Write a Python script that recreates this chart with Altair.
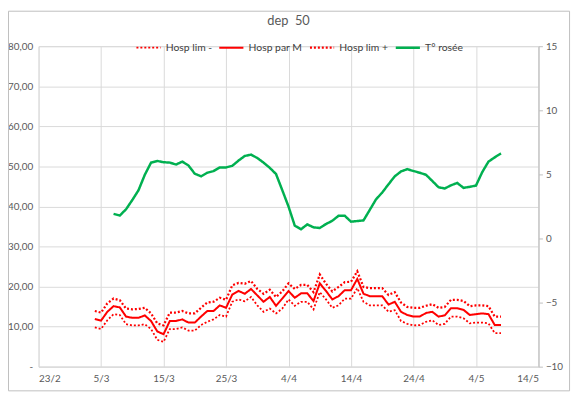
import altair as alt
import pandas as pd

# ---------------- data ----------------
series_names = ["Hosp lim -", "Hosp par M", "Hosp lim +", "T° rosée"]
x_tick_dates = ["2021-02-23", "2021-03-05", "2021-03-15", "2021-03-25", "2021-04-04",
                "2021-04-14", "2021-04-24", "2021-05-04", "2021-05-14"]
left_ticks = [0, 10, 20, 30, 40, 50, 60, 70, 80]
right_ticks = [-10, -5, 0, 5, 10, 15]

hosp_start = "2021-03-04"
hosp_m = [11.9, 11.5, 13.7, 15.1, 14.8, 12.5, 12.2, 12.2, 12.8, 11.4, 8.8, 8.1, 11.4, 11.4, 11.8, 11.0, 11.0,
          12.5, 13.9, 13.9, 15.3, 14.7, 18.0, 18.9, 18.2, 19.4, 17.8, 16.2, 17.4, 15.2, 17.0, 18.9, 17.2,
          18.3, 18.3, 16.4, 20.8, 18.9, 16.8, 17.6, 19.1, 19.1, 21.9, 18.2, 17.6, 17.6, 17.6, 15.5, 16.2,
          13.7, 12.9, 12.5, 12.5, 13.4, 13.7, 12.5, 12.8, 14.6, 14.6, 14.2, 12.9, 13.1, 13.3, 13.1, 10.4, 10.4]
hosp_hi = [13.9, 13.5, 15.8, 17.0, 16.6, 14.5, 14.3, 14.4, 14.7, 13.3, 10.8, 10.3, 13.5, 13.5, 13.9, 13.3, 13.3,
           14.7, 16.0, 16.2, 17.2, 16.7, 20.3, 20.9, 20.7, 21.4, 19.4, 18.2, 19.2, 17.4, 18.8, 20.8, 19.4,
           20.4, 20.4, 18.6, 23.0, 20.7, 18.8, 19.9, 21.1, 21.2, 23.8, 19.9, 19.6, 19.6, 19.6, 17.9, 18.6,
           16.0, 14.9, 14.7, 14.7, 15.2, 15.6, 14.7, 14.9, 16.7, 16.7, 16.4, 15.1, 15.3, 15.3, 15.1, 12.5, 12.5]
hosp_lo = [9.8, 9.4, 11.6, 13.1, 12.9, 10.6, 10.3, 10.3, 10.6, 9.4, 6.7, 6.2, 9.4, 9.4, 9.8, 9.0, 9.0,
           10.4, 11.2, 11.8, 12.9, 12.5, 16.2, 16.8, 16.3, 17.4, 15.3, 13.7, 14.5, 13.3, 14.5, 16.8, 15.2,
           16.2, 16.2, 14.3, 18.6, 16.8, 14.7, 15.3, 17.0, 17.0, 19.6, 16.2, 15.3, 15.3, 15.3, 13.7, 14.1,
           11.4, 10.7, 10.3, 10.4, 11.2, 11.6, 10.4, 10.7, 12.5, 12.5, 12.1, 10.8, 11.0, 11.0, 10.8, 8.4, 8.4]

rosee_start = "2021-03-07"
rosee = [1.92, 1.79, 2.28, 3.0, 3.77, 4.97, 5.92, 6.05, 5.95, 5.92, 5.77, 6.0, 5.69, 5.05, 4.85, 5.13,
         5.26, 5.54, 5.54, 5.67, 6.08, 6.44, 6.54, 6.28, 5.92, 5.51, 5.03, 3.77, 2.49, 1.0, 0.72, 1.1,
         0.87, 0.82, 1.13, 1.38, 1.77, 1.77, 1.31, 1.36, 1.41, 2.23, 3.05, 3.59, 4.23, 4.85, 5.23, 5.41,
         5.26, 5.13, 4.97, 4.49, 4.0, 3.9, 4.15, 4.33, 3.95, 4.03, 4.13, 5.18, 6.0, 6.33, 6.64]


def days(start, n):
    return [d.strftime("%Y-%m-%dT00:00:00") for d in pd.date_range(start, periods=n, freq="D")]


def dt(s):
    y, m, d = map(int, s.split("-"))
    return alt.DateTime(year=y, month=m, date=d)


hosp_dates = days(hosp_start, len(hosp_m))
rows = []
for name, vals in [("Hosp lim -", hosp_lo), ("Hosp par M", hosp_m), ("Hosp lim +", hosp_hi)]:
    for d, v in zip(hosp_dates, vals):
        rows.append({"date": d, "val": v, "serie": name})
df_hosp = pd.DataFrame(rows)
df_rosee = pd.DataFrame({"date": days(rosee_start, len(rosee)), "val": rosee,
                         "serie": ["T° rosée"] * len(rosee)})

# ---------------- styles ----------------
TXT = "#595959"
GRID = "#D9D9D9"
FONT = "Lato"

legend = alt.Legend(orient="none", legendX=98, legendY=-12, direction="horizontal", title=None,
                    symbolType="stroke", symbolSize=600, symbolStrokeWidth=2, gridAlign="none",
                    labelFontSize=10.5, labelColor="#404040", labelFont=FONT, columnPadding=2, labelOffset=4)

color = alt.Color("serie:N", scale=alt.Scale(domain=series_names,
                                             range=["#FF0000", "#FF0000", "#FF0000", "#00B050"]),
                  legend=legend)
dash = alt.StrokeDash("serie:N", scale=alt.Scale(domain=series_names,
                                                 range=[[2, 2], [1, 0], [2, 2], [1, 0]]),
                      legend=legend)
width_enc = alt.StrokeWidth("serie:N", scale=alt.Scale(domain=series_names, range=[1.8, 2.5, 1.8, 2]),
                            legend=None)

x_enc = alt.X("date:T",
              scale=alt.Scale(domain=[dt(x_tick_dates[0]), dt(x_tick_dates[-1])], nice=False),
              axis=alt.Axis(values=[dt(s) for s in x_tick_dates], format="%-d/%-m", title=None,
                            grid=True, gridColor=GRID, domainColor=GRID, ticks=False,
                            labelPadding=7, labelColor=TXT, labelFontSize=10, labelFont=FONT))

red = alt.Chart(df_hosp).mark_line().encode(
    x=x_enc,
    y=alt.Y("val:Q", scale=alt.Scale(domain=[0, 80], nice=False),
            axis=alt.Axis(orient="left", values=left_ticks, title=None, grid=True, gridColor=GRID,
                          domain=False, ticks=False, labelPadding=6, labelColor=TXT,
                          labelFontSize=10, labelFont=FONT,
                          labelExpr="datum.value == 0 ? '-' : replace(format(datum.value, '.2f'), '.', ',')")),
    color=color, strokeDash=dash, strokeWidth=width_enc, detail="serie:N",
)

green = alt.Chart(df_rosee).mark_line().encode(
    x=x_enc,
    y=alt.Y("val:Q", scale=alt.Scale(domain=[-10, 15], nice=False),
            axis=alt.Axis(orient="right", values=right_ticks, title=None, grid=False,
                          domainColor="#BFBFBF", tickColor="#BFBFBF", tickSize=4, labelPadding=3,
                          labelColor=TXT, labelFontSize=10, labelFont=FONT)),
    color=color, strokeDash=dash, strokeWidth=width_enc,
)

border = alt.Chart(pd.DataFrame({"k": [0]})).mark_rect(fillOpacity=0, stroke="#BFBFBF", strokeWidth=1).encode(
    x=alt.value(-30.5), x2=alt.value(538.5), y=alt.value(-35.5), y2=alt.value(349.5)
)

chart = alt.layer(border, red, green).resolve_scale(y="independent").properties(
    width=507, height=325,
    padding={"left": 31, "top": 36, "right": 35, "bottom": 28},
    autosize=alt.AutoSizeParams(type="none"),
    title=alt.Title("dep\u00a0 50", fontSize=13, color=TXT, font=FONT, fontWeight="normal",
                    anchor="middle", offset=-17),
).configure_view(strokeWidth=0).configure(font=FONT)

chart.save("out.html", embed_options={"renderer": "svg", "actions": False})
